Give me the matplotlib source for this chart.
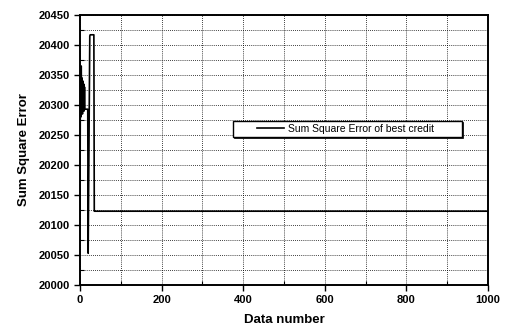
import matplotlib
matplotlib.use("Agg")
import matplotlib.pyplot as plt
from matplotlib.ticker import MultipleLocator
from matplotlib.patches import Rectangle

plt.rcParams['font.family'] = ['Liberation Sans', 'DejaVu Sans']

data_number = [0, 1, 2, 3, 4, 5, 6, 7, 8, 9, 10, 11, 12, 19, 20, 24, 25, 34, 35, 1000]
sse = [20120, 20360, 20280, 20365, 20300, 20345, 20285, 20340, 20295, 20335, 20290, 20330,
       20293, 20293, 20053, 20415, 20417, 20417, 20123, 20123]

fig = plt.figure(figsize=(5.05, 3.29), dpi=100)
ax = fig.add_axes([80/505, 44/329, 408/505, 270/329])

ax.plot(data_number, sse, color='black', linewidth=1.2,
        label='Sum Square Error of best credit')

ax.set_xlim(0, 1000)
ax.set_ylim(20000, 20450)
ax.xaxis.set_major_locator(MultipleLocator(200))
ax.xaxis.set_minor_locator(MultipleLocator(100))
ax.yaxis.set_major_locator(MultipleLocator(50))
ax.yaxis.set_minor_locator(MultipleLocator(25))

ax.grid(True, which='both', linestyle=(0, (1, 1.5)), color='black', linewidth=0.6)
ax.tick_params(which='major', direction='out', length=4, width=1, labelsize=8)
ax.tick_params(which='minor', direction='in', length=3, width=0.8)
for lbl in ax.get_xticklabels() + ax.get_yticklabels():
    lbl.set_fontweight('bold')
for s in ax.spines.values():
    s.set_linewidth(1.4)

ax.set_xlabel('Data number', fontsize=9.5, fontweight='bold', labelpad=6)
ax.set_ylabel('Sum Square Error', fontsize=9.5, fontweight='bold', labelpad=6)

# legend box (frame drawn separately for the wide padding of the original)
x0, x1 = 0.375, 0.936
y0, y1 = 0.548, 0.607
shadow = Rectangle((x0 + 0.0025, y0 - 0.004), x1 - x0, y1 - y0, transform=ax.transAxes,
                   facecolor='black', edgecolor='black', linewidth=0.5, zorder=4)
box = Rectangle((x0, y0), x1 - x0, y1 - y0, transform=ax.transAxes,
                facecolor='white', edgecolor='black', linewidth=1.0, zorder=5)
ax.add_patch(shadow)
ax.add_patch(box)

leg = ax.legend(loc='center left', bbox_to_anchor=(0.434, (y0 + y1) / 2), fontsize=7.5,
                frameon=False, handlelength=2.6, handletextpad=0.4,
                borderpad=0, borderaxespad=0)
leg.set_zorder(6)

fig.savefig('out.png', dpi=100)
